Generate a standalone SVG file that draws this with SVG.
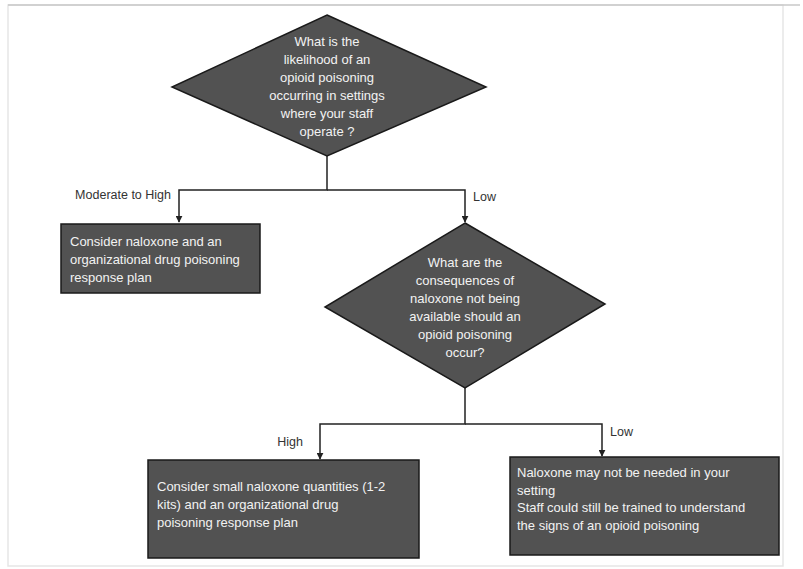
<svg xmlns="http://www.w3.org/2000/svg" width="803" height="569" viewBox="0 0 803 569">
<defs>
<marker id="ah" viewBox="0 0 10 10" refX="9" refY="5" markerWidth="7" markerHeight="7" markerUnits="userSpaceOnUse" orient="auto">
<path d="M0,0 L10,5 L0,10 z" fill="#222"/>
</marker>
<style>
.shape{fill:#525252;stroke:#1a1a1a;stroke-width:1.5}
.t{font-family:"Liberation Sans",Arial,sans-serif;font-size:13px;fill:#f2f2f2}
.c{text-anchor:middle}
.lbl{font-family:"Liberation Sans",Arial,sans-serif;font-size:12.5px;fill:#333}
.con{fill:none;stroke:#222;stroke-width:1.5}
</style>
</defs>
<rect width="803" height="569" fill="#ffffff"/>
<g id="frame">
<rect x="8" y="5" width="775" height="561" fill="none" stroke="#e6e6e6" stroke-width="1.5"/>
<line x1="8" y1="5" x2="800" y2="5" stroke="#c8c8c8" stroke-width="1.5"/>
</g>
<g id="connectors">
<polyline class="con" points="327,155 327,190 179,190 179,222" marker-end="url(#ah)"/>
<polyline class="con" points="327,190 465,190 465,222" marker-end="url(#ah)"/>
<polyline class="con" points="465,388 465,424 320,424 320,459" marker-end="url(#ah)"/>
<polyline class="con" points="465,424 602,424 602,456" marker-end="url(#ah)"/>
<text class="lbl" x="171" y="199" text-anchor="end">Moderate to High</text>
<text class="lbl" x="473" y="201">Low</text>
<text class="lbl" x="290" y="446" text-anchor="middle">High</text>
<text class="lbl" x="610" y="436">Low</text>
</g>
<g id="q1">
<polygon class="shape" points="327,15 486,87 327,156 172,87"/>
<text class="t c" x="327" y="46">What is the</text>
<text class="t c" x="327" y="64">likelihood of an</text>
<text class="t c" x="327" y="82">opioid poisoning</text>
<text class="t c" x="327" y="100">occurring in settings</text>
<text class="t c" x="327" y="118">where your staff</text>
<text class="t c" x="327" y="136">operate ?</text>
</g>
<g id="box1">
<rect class="shape" x="61" y="224" width="199" height="69"/>
<text class="t" x="70" y="246">Consider naloxone and an</text>
<text class="t" x="70" y="264">organizational drug poisoning</text>
<text class="t" x="70" y="282">response plan</text>
</g>
<g id="q2">
<polygon class="shape" points="465,223 605,304 465,388 325,307"/>
<text class="t c" x="465" y="267">What are the</text>
<text class="t c" x="465" y="285">consequences of</text>
<text class="t c" x="465" y="303">naloxone not being</text>
<text class="t c" x="465" y="321">available should an</text>
<text class="t c" x="465" y="339">opioid poisoning</text>
<text class="t c" x="465" y="357">occur?</text>
</g>
<g id="box3">
<rect class="shape" x="148" y="460" width="271" height="98"/>
<text class="t" x="157" y="491">Consider small naloxone quantities (1-2</text>
<text class="t" x="157" y="509">kits) and an organizational drug</text>
<text class="t" x="157" y="527">poisoning response plan</text>
</g>
<g id="box4">
<rect class="shape" x="510" y="457" width="269" height="98"/>
<text class="t" x="517" y="477">Naloxone may not be needed in your</text>
<text class="t" x="517" y="495">setting</text>
<text class="t" x="517" y="512">Staff could still be trained to understand</text>
<text class="t" x="517" y="530">the signs of an opioid poisoning</text>
</g>
</svg>
